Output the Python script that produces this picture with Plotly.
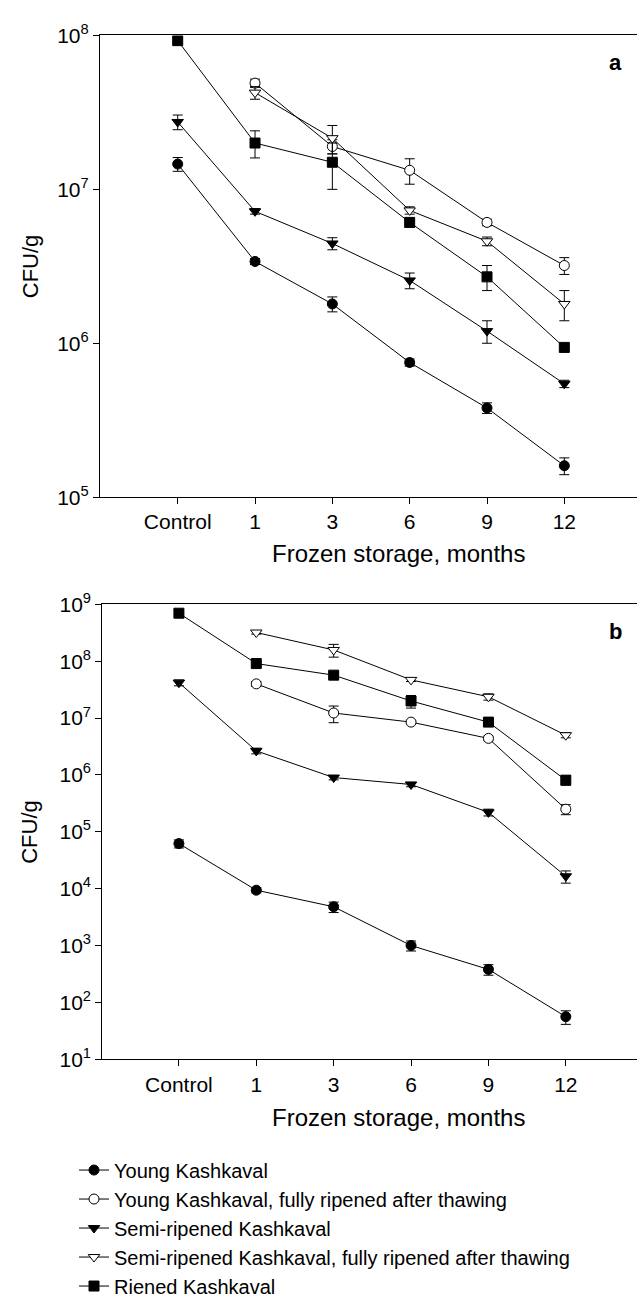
import plotly.graph_objects as go

months = ["Control", "1", "3", "6", "9", "12"]
series_names = [
    "Young Kashkaval",
    "Young Kashkaval, fully ripened after thawing",
    "Semi-ripened Kashkaval",
    "Semi-ripened Kashkaval, fully ripened after thawing",
    "Riened Kashkaval",
]

# Panel a (CFU/g)
a_young = [1.46e7, 3.40e6, 1.80e6, 7.5e5, 3.8e5, 1.6e5]
a_young_err = [1.5e6, 1.5e5, 2e5, 4e4, 3e4, 2e4]
a_young_ripe = [None, 4.9e7, 1.9e7, 1.33e7, 6.1e6, 3.2e6]
a_young_ripe_err = [None, 3e6, 2e6, 2.5e6, 3e5, 4e5]
a_semi = [2.74e7, 7.2e6, 4.45e6, 2.56e6, 1.2e6, 5.45e5]
a_semi_err = [3e6, 3e5, 4e5, 3e5, 2e5, 3e4]
a_semi_ripe = [None, 4.25e7, 2.15e7, 7.3e6, 4.6e6, 1.8e6]
a_semi_ripe_err = [None, 4e6, 4.5e6, 4e5, 3e5, 4e5]
a_ripened = [9.25e7, 2.0e7, 1.5e7, 6.1e6, 2.7e6, 9.4e5]
a_ripened_err = [4e6, 4e6, 5e6, 4e5, 5e5, 5e4]

# Panel b (CFU/g)
b_young = [6.2e4, 9.4e3, 4.8e3, 1.0e3, 3.8e2, 5.6e1]
b_young_err = [1e4, 1e3, 1e3, 2e2, 8e1, 1.5e1]
b_young_ripe = [None, 4.0e7, 1.23e7, 8.5e6, 4.4e6, 2.5e5]
b_young_ripe_err = [None, 4e6, 4e6, 5e5, 4e5, 5e4]
b_semi = [4.2e7, 2.65e6, 9.0e5, 6.8e5, 2.2e5, 1.65e4]
b_semi_err = [5e6, 3e5, 8e4, 6e4, 3e4, 4e3]
b_semi_ripe = [None, 3.2e8, 1.58e8, 4.7e7, 2.37e7, 5.0e6]
b_semi_ripe_err = [None, 2e7, 4e7, 3e6, 3e6, 5e5]
b_ripened = [7.0e8, 9.1e7, 5.7e7, 2.0e7, 8.5e6, 8.1e5]
b_ripened_err = [7e7, 8e6, 6e6, 5e6, 1e6, 1.5e5]

a_tick_exps = [5, 6, 7, 8]
b_tick_exps = [1, 2, 3, 4, 5, 6, 7, 8, 9]

styles = [
    dict(symbol="circle", color="black"),
    dict(symbol="circle", color="white"),
    dict(symbol="triangle-down", color="black"),
    dict(symbol="triangle-down", color="white"),
    dict(symbol="square", color="black"),
]

W, H = 637, 1306
FONT = "Liberation Sans, Arial, Helvetica, sans-serif"

fig = go.Figure()

panel_a = [(a_young, a_young_err), (a_young_ripe, a_young_ripe_err), (a_semi, a_semi_err),
           (a_semi_ripe, a_semi_ripe_err), (a_ripened, a_ripened_err)]
panel_b = [(b_young, b_young_err), (b_young_ripe, b_young_ripe_err), (b_semi, b_semi_err),
           (b_semi_ripe, b_semi_ripe_err), (b_ripened, b_ripened_err)]

xidx = list(range(len(months)))

def add_panel(data, xa, ya, show):
    for i, ((vals, errs), st) in enumerate(zip(data, styles)):
        xs = [x for x, v in zip(xidx, vals) if v is not None]
        ys = [v for v in vals if v is not None]
        es = [e for e, v in zip(errs, vals) if v is not None]
        fig.add_trace(go.Scatter(
            x=xs, y=ys, mode="lines+markers", name=series_names[i],
            legendgroup=f"g{i}", showlegend=show,
            xaxis=xa, yaxis=ya,
            line=dict(color="black", width=1),
            marker=dict(symbol=st["symbol"], color=st["color"], size=10,
                        line=dict(color="black", width=1)),
            error_y=dict(type="data", array=es, visible=True, color="black",
                         thickness=1, width=5),
        ))

add_panel(panel_a, "x", "y", True)
add_panel(panel_b, "x2", "y2", False)

def px_x(p):
    return p / W

def px_y(p):
    return 1 - p / H

axis_common = dict(showline=True, linecolor="black", linewidth=1.2, ticks="outside",
                   ticklen=6, tickcolor="black", tickwidth=1, showgrid=False, zeroline=False,
                   tickfont=dict(family=FONT, size=21, color="black"))

fig.update_layout(
    width=W, height=H, margin=dict(l=0, r=0, t=0, b=0),
    paper_bgcolor="white", plot_bgcolor="white",
    font=dict(family=FONT, color="black"),
    xaxis=dict(domain=[px_x(100), 1], range=[-1.005, 5.94], tickvals=xidx, ticktext=months,
               mirror=True, anchor="y", **axis_common),
    yaxis=dict(domain=[px_y(495.7), px_y(22)], type="log", range=[5, 8],
               tickvals=[10 ** e for e in a_tick_exps],
               ticktext=[f"10<sup>{e}</sup>" for e in a_tick_exps], anchor="x", **axis_common),
    xaxis2=dict(domain=[px_x(102.3), 1], range=[-0.99, 5.92], tickvals=xidx, ticktext=months,
                mirror=True, anchor="y2", **axis_common),
    yaxis2=dict(domain=[px_y(1072.3), px_y(605.7)], type="log", range=[1, 9],
                tickvals=[10 ** e for e in b_tick_exps],
                ticktext=[f"10<sup>{e}</sup>" for e in b_tick_exps], anchor="x2", **axis_common),
    legend=dict(x=px_x(74), y=px_y(1166), xanchor="left", yanchor="top",
                font=dict(family=FONT, size=20, color="black"),
                tracegroupgap=0, bgcolor="rgba(0,0,0,0)"),
    showlegend=True,
)

ann = []
for yc in [258.8, 839]:
    ann.append(dict(text="CFU/g", x=px_x(30), y=px_y(yc), xref="paper", yref="paper",
                    xanchor="center", yanchor="middle",
                    showarrow=False, textangle=-90, font=dict(family=FONT, size=22, color="black")))
for yc in [553, 1132]:
    ann.append(dict(text="Frozen storage, months", x=px_x(398), y=px_y(yc), xref="paper", yref="paper",
                    xanchor="center", yanchor="middle",
                    showarrow=False, font=dict(family=FONT, size=24, color="black")))
for t, yc in [("a", 50), ("b", 633)]:
    ann.append(dict(text=f"<b>{t}</b>", x=px_x(615), y=px_y(yc), xref="paper", yref="paper",
                    xanchor="center", yanchor="middle",
                    showarrow=False, font=dict(family=FONT, size=22, color="black")))
fig.update_layout(annotations=ann)

fig.write_html("out.html", config={"displayModeBar": False},
               post_script="document.body.style.margin='0';")
